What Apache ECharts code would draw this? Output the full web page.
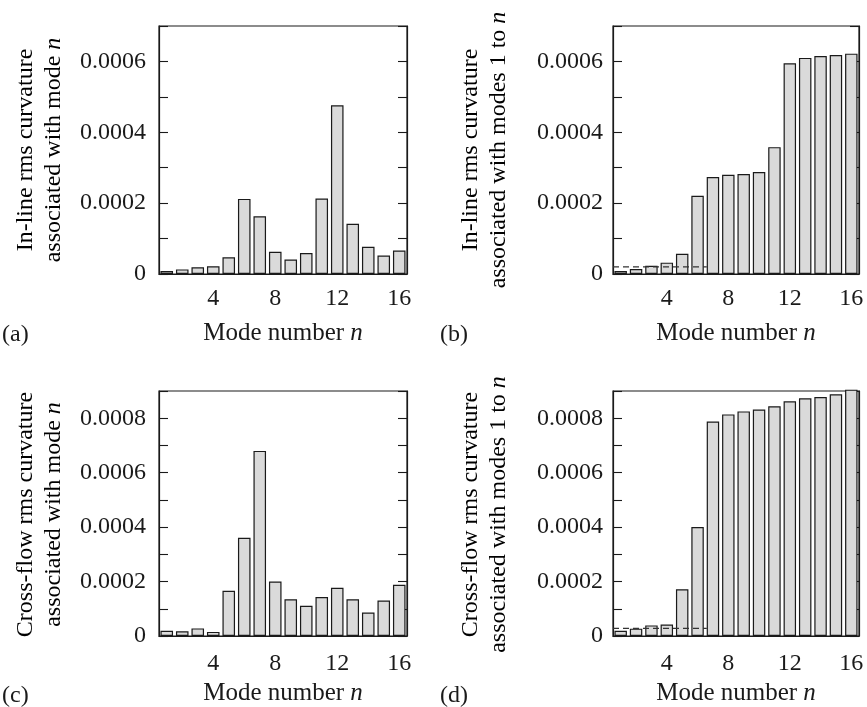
<!DOCTYPE html>
<html>
<head>
<meta charset="utf-8">
<script src="https://cdn.jsdelivr.net/npm/echarts@6/dist/echarts.min.js"></script>
<style>
  html, body { margin: 0; padding: 0; background: #ffffff; }
  #chart { width: 867px; height: 707px; }
</style>
</head>
<body>
<div id="chart"></div>
<script>
// Mode numbers 1..16 along the horizontal axis
const modes = ['1','2','3','4','5','6','7','8','9','10','11','12','13','14','15','16'];
const shownModeLabels = ['4','8','12','16'];

// (a) in-line rms curvature associated with each mode n
const inlineByMode = [0.0000085, 0.000013, 0.000019, 0.000022, 0.000047, 0.000212, 0.000163, 0.000063,
                      0.000041, 0.000059, 0.000213, 0.000476, 0.000142, 0.000077, 0.000052, 0.000066];
// (b) in-line rms curvature associated with modes 1 to n
const inlineCumulative = [0.0000085, 0.000014, 0.000023, 0.000032, 0.000057, 0.000221, 0.000274, 0.000280,
                          0.000282, 0.000288, 0.000358, 0.000595, 0.000610, 0.000615, 0.000618, 0.000622];
// (c) cross-flow rms curvature associated with each mode n
const crossByMode = [0.000019, 0.000017, 0.000028, 0.000015, 0.000166, 0.000361, 0.000680, 0.000200,
                     0.000135, 0.000111, 0.000143, 0.000177, 0.000135, 0.000086, 0.000130, 0.000188];
// (d) cross-flow rms curvature associated with modes 1 to n
const crossCumulative = [0.000019, 0.000027, 0.000039, 0.000042, 0.000172, 0.000400, 0.000788, 0.000814,
                         0.000825, 0.000832, 0.000844, 0.000862, 0.000873, 0.000878, 0.000888, 0.000905];

// Dashed reference levels in the cumulative panels: [start mode, end mode], level
const refSpan = [0.5, 6.6];
const inlineRefLevel = 0.000020;
const crossRefLevel = 0.000028;

// Y-axis extents and tick step
const inlineMax = 0.0007;
const crossMax = 0.0009;
const yStep = 0.0001;

const FONT = '"Liberation Serif", "Times New Roman", serif';
const FS = 24;
const NAME_FS = 25;
const INK = '#1a1a1a';

const panels = [
  { tag: '(a)', values: inlineByMode, max: inlineMax, ref: null,
    grid: { left: 159, top: 26, width: 248, height: 248 }, labelMargin: 13, xMargin: 13, nameGap: 47,
    title: ['In-line rms curvature', 'associated with mode '], titleX: 40, tagX: 2, tagY: 335 },
  { tag: '(b)', values: inlineCumulative, max: inlineMax, ref: inlineRefLevel,
    grid: { left: 613, top: 26, width: 246, height: 248 }, labelMargin: 10, xMargin: 13, nameGap: 47,
    title: ['In-line rms curvature', 'associated with modes 1 to '], titleX: 485, tagX: 440, tagY: 335 },
  { tag: '(c)', values: crossByMode, max: crossMax, ref: null,
    grid: { left: 159, top: 391, width: 248, height: 247 }, labelMargin: 13, xMargin: 16, nameGap: 45,
    title: ['Cross-flow rms curvature', 'associated with mode '], titleX: 40, tagX: 2, tagY: 696 },
  { tag: '(d)', values: crossCumulative, max: crossMax, ref: crossRefLevel,
    grid: { left: 613, top: 391, width: 246, height: 247 }, labelMargin: 10, xMargin: 16, nameGap: 45,
    title: ['Cross-flow rms curvature', 'associated with modes 1 to '], titleX: 485, tagX: 440, tagY: 696 }
];

const nameRich = {
  r: { fontFamily: FONT, fontSize: NAME_FS, color: INK },
  i: { fontFamily: FONT, fontSize: NAME_FS, color: INK, fontStyle: 'italic' }
};
const titleRich = {
  r: { fontFamily: FONT, fontSize: FS, color: INK, lineHeight: 28 },
  i: { fontFamily: FONT, fontSize: FS, color: INK, fontStyle: 'italic', lineHeight: 28 }
};

function yLabel(v) {
  const k = Math.round(v / yStep);
  if (k % 2 !== 0) return '';
  return k === 0 ? '0' : (k * yStep).toFixed(4);
}

const grids = [], xAxes = [], yAxes = [], series = [], graphics = [];

panels.forEach((p, i) => {
  grids.push(Object.assign({ show: true, borderColor: INK, borderWidth: 1.2,
                             backgroundColor: 'transparent' }, p.grid));

  // category axis for the bars
  xAxes.push({
    type: 'category', gridIndex: i, data: modes,
    axisLine: { show: true, lineStyle: { color: INK, width: 1.2 } },
    axisTick: { show: false },
    axisLabel: {
      interval: 0, margin: p.xMargin, fontFamily: FONT, fontSize: FS, color: INK,
      formatter: v => (shownModeLabels.indexOf(v) >= 0 ? v : '')
    },
    name: '{r|Mode number }{i|n}', nameLocation: 'middle', nameGap: p.nameGap,
    nameTextStyle: { rich: nameRich }
  });
  // numeric twin of the mode axis, used for the dashed reference level
  xAxes.push({ type: 'value', gridIndex: i, min: 0.5, max: 16.5, show: false });

  const yCommon = {
    type: 'value', gridIndex: i, min: 0, max: p.max, interval: yStep,
    splitLine: { show: false },
    axisLine: { show: true, lineStyle: { color: INK, width: 1.2 } },
    axisTick: { show: true, inside: true, length: 9, lineStyle: { color: INK, width: 1.1 } }
  };
  yAxes.push(Object.assign({}, yCommon, {
    position: 'left',
    axisLabel: { margin: p.labelMargin, fontFamily: FONT, fontSize: FS, color: INK, formatter: yLabel }
  }));
  yAxes.push(Object.assign({}, yCommon, { position: 'right', axisLabel: { show: false } }));

  series.push({
    type: 'bar', xAxisIndex: 2 * i, yAxisIndex: 2 * i, data: p.values,
    barCategoryGap: '19%', clip: false, silent: true,
    itemStyle: { color: '#dadada', borderColor: INK, borderWidth: 1.2 }
  });

  if (p.ref !== null) {
    series.push({
      type: 'line', xAxisIndex: 2 * i + 1, yAxisIndex: 2 * i, silent: true,
      data: [[refSpan[0], p.ref], [refSpan[1], p.ref]],
      symbol: 'none', z: 5,
      lineStyle: { color: '#333', width: 1.1, type: [6, 4] }
    });
  }

  const cy = p.grid.top + p.grid.height / 2;
  graphics.push({
    type: 'text', x: p.titleX, y: cy, rotation: Math.PI / 2,
    style: {
      text: '{r|' + p.title[0] + '}\n{r|' + p.title[1] + '}{i|n}',
      rich: titleRich,
      align: 'center', verticalAlign: 'middle'
    }
  });
  graphics.push({
    type: 'text', x: p.tagX, y: p.tagY,
    style: { text: p.tag, fontFamily: FONT, fontSize: FS, fill: INK,
             align: 'left', verticalAlign: 'middle' }
  });
});

const chart = echarts.init(document.getElementById('chart'), null, { renderer: 'canvas' });
chart.setOption({
  backgroundColor: '#ffffff',
  animation: false,
  grid: grids,
  xAxis: xAxes,
  yAxis: yAxes,
  series: series,
  graphic: graphics
});
</script>
</body>
</html>
